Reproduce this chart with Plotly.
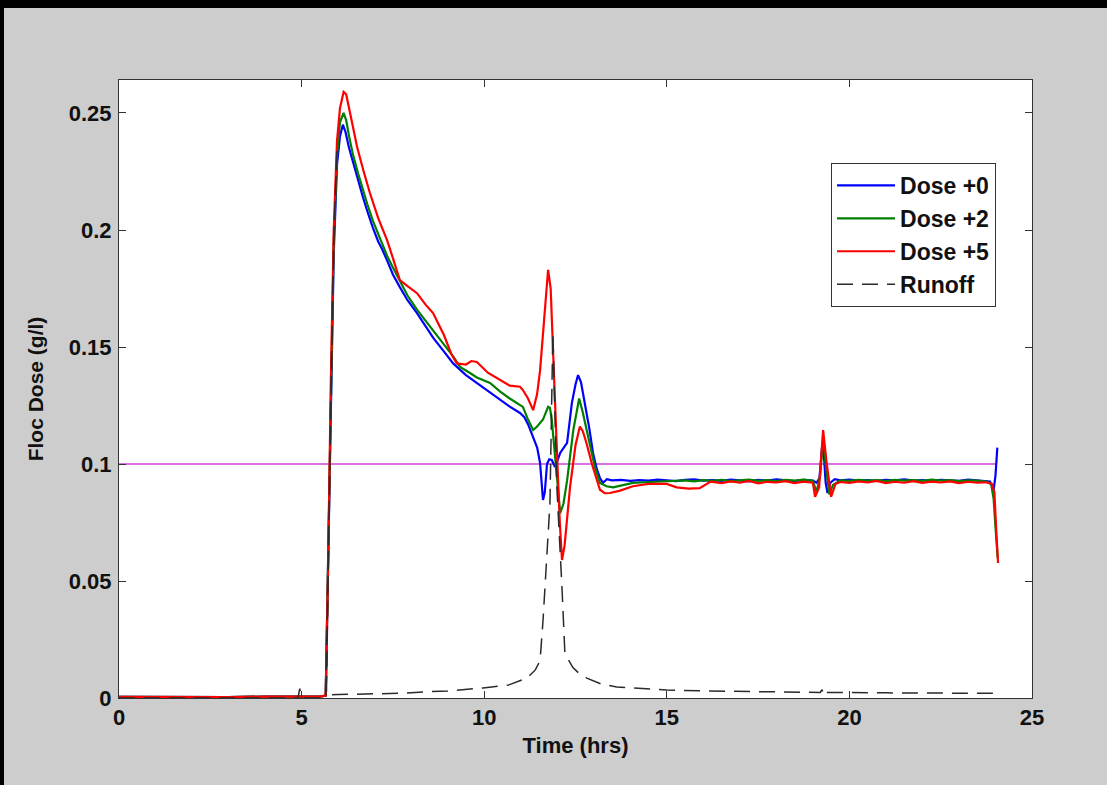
import plotly.graph_objects as go

# ---------------- data ----------------
dose0_t = [0, 1, 2, 3, 4, 5, 5.5, 5.66, 5.72, 5.8, 5.88, 5.97, 6.05, 6.13, 6.2, 6.3, 6.41,
           6.55, 6.68, 6.8, 6.95, 7.1, 7.2, 7.34, 7.5, 7.69, 7.9, 8.16, 8.4, 8.6, 8.9, 9.15,
           9.5, 9.8, 10.1, 10.43, 10.7, 10.98, 11.1, 11.2, 11.3, 11.45, 11.53, 11.58, 11.61,
           11.66, 11.72, 11.78, 11.85, 11.94, 12.08, 12.27, 12.4, 12.5, 12.57, 12.65, 12.76,
           12.88, 12.98, 13.08, 13.17, 13.25, 13.36, 13.5, 13.75, 14.0, 14.25, 14.5, 14.75,
           15.0, 15.25, 15.5, 15.75, 16.0, 16.25, 16.5, 16.75, 17.0, 17.25, 17.5, 17.75, 18.0,
           18.25, 18.5, 18.75, 19.0, 19.1, 19.18, 19.25, 19.3, 19.35, 19.4, 19.48, 19.6, 19.75,
           20.0, 20.25, 20.5, 20.75, 21.0, 21.25, 21.5, 21.75, 22.0, 22.25, 22.5, 22.75, 23.0,
           23.25, 23.5, 23.75, 23.85, 23.95, 24.0, 24.05]
dose0_v = [0.0005, 0.0004, 0.0005, 0.0004, 0.0006, 0.0005, 0.0006, 0.001, 0.05, 0.13, 0.19,
           0.228, 0.240, 0.245, 0.242, 0.235, 0.2286, 0.221, 0.214, 0.208, 0.201, 0.195, 0.192,
           0.187, 0.181, 0.1756, 0.170, 0.1645, 0.159, 0.154, 0.148, 0.143, 0.138, 0.1346,
           0.131, 0.1274, 0.1245, 0.1218, 0.120, 0.117, 0.113, 0.107, 0.1004, 0.090, 0.0846,
           0.088, 0.100, 0.102, 0.1017, 0.0987, 0.1047, 0.109, 0.126, 0.134, 0.138, 0.135,
           0.126, 0.115, 0.1047, 0.098, 0.094, 0.092, 0.0935, 0.0930, 0.0932, 0.0928, 0.0931,
           0.0929, 0.0933, 0.0930, 0.0927, 0.0932, 0.0934, 0.0929, 0.0931, 0.0928, 0.0933,
           0.0930, 0.0926, 0.0932, 0.0929, 0.0934, 0.0930, 0.0927, 0.0932, 0.0929, 0.0920,
           0.0940, 0.107, 0.104, 0.092, 0.0876, 0.092, 0.0935, 0.0930, 0.0933, 0.0929, 0.0931,
           0.0928, 0.0932, 0.0930, 0.0934, 0.0929, 0.0931, 0.0927, 0.0932, 0.0930, 0.0928,
           0.0933, 0.0930, 0.0929, 0.0925, 0.089, 0.095, 0.107]

dose2_t = [0, 1, 2, 3, 4, 5, 5.5, 5.66, 5.72, 5.8, 5.88, 5.97, 6.05, 6.15, 6.22, 6.3, 6.41,
           6.55, 6.68, 6.8, 6.95, 7.1, 7.2, 7.34, 7.5, 7.69, 7.9, 8.16, 8.4, 8.6, 8.9, 9.15,
           9.34, 9.6, 9.8, 10.16, 10.43, 10.7, 11.06, 11.2, 11.34, 11.45, 11.61, 11.75, 11.8,
           11.85, 11.93, 12.0, 12.08, 12.17, 12.27, 12.44, 12.6, 12.7, 12.8, 13.03, 13.17,
           13.35, 13.53, 13.8, 14.07, 14.4, 14.8, 15.2, 15.5, 15.75, 16.0, 16.25, 16.5, 16.75,
           17.0, 17.25, 17.5, 17.75, 18.0, 18.25, 18.5, 18.75, 19.0, 19.1, 19.2, 19.28, 19.35,
           19.45, 19.55, 19.75, 20.0, 20.25, 20.5, 20.75, 21.0, 21.25, 21.5, 21.75, 22.0,
           22.25, 22.5, 22.75, 23.0, 23.25, 23.5, 23.75, 23.88, 23.95, 24.0, 24.06]
dose2_v = [0.0005, 0.0004, 0.0005, 0.0004, 0.0006, 0.0005, 0.0006, 0.001, 0.05, 0.13, 0.195,
           0.232, 0.246, 0.250, 0.247, 0.240, 0.232, 0.224, 0.217, 0.211, 0.204, 0.198, 0.194,
           0.189, 0.184, 0.178, 0.172, 0.166, 0.161, 0.157, 0.151, 0.146, 0.1415, 0.139,
           0.137, 0.1346, 0.131, 0.128, 0.1244, 0.119, 0.1145, 0.116, 0.119, 0.1244, 0.124,
           0.119, 0.105, 0.093, 0.079, 0.083, 0.093, 0.1145, 0.128, 0.122, 0.1145, 0.0987,
           0.0919, 0.0905, 0.090, 0.0908, 0.0919, 0.0922, 0.0925, 0.0928, 0.0930, 0.0926,
           0.0931, 0.0928, 0.0932, 0.0927, 0.0930, 0.0933, 0.0928, 0.0931, 0.0927, 0.0932,
           0.0929, 0.0933, 0.0928, 0.088, 0.095, 0.112, 0.100, 0.087, 0.091, 0.0930, 0.0928,
           0.0932, 0.0929, 0.0931, 0.0927, 0.0932, 0.0929, 0.0931, 0.0928, 0.0933, 0.0929,
           0.0931, 0.0927, 0.0930, 0.0929, 0.0925, 0.0915, 0.085, 0.073, 0.060]

dose5_t = [0, 1, 2, 3, 4, 5, 5.5, 5.66, 5.72, 5.8, 5.88, 5.97, 6.05, 6.15, 6.22, 6.3, 6.41,
           6.52, 6.7, 6.87, 7.1, 7.34, 7.5, 7.69, 7.9, 8.16, 8.4, 8.6, 8.9, 9.1, 9.25, 9.5,
           9.65, 9.8, 10.1, 10.43, 10.7, 10.98, 11.06, 11.2, 11.34, 11.45, 11.53, 11.64, 11.75,
           11.82, 11.88, 11.99, 12.07, 12.13, 12.2, 12.35, 12.5, 12.62, 12.7, 12.8, 12.95,
           13.08, 13.17, 13.3, 13.44, 13.7, 14.07, 14.5, 15.0, 15.27, 15.6, 15.9, 16.2, 16.5,
           16.75, 17.0, 17.25, 17.5, 17.75, 18.0, 18.25, 18.5, 18.75, 19.0, 19.06, 19.17,
           19.28, 19.38, 19.5, 19.62, 19.75, 20.0, 20.25, 20.5, 20.75, 21.0, 21.25, 21.5,
           21.75, 22.0, 22.25, 22.5, 22.75, 23.0, 23.25, 23.5, 23.75, 23.9, 23.97, 24.02, 24.07]
dose5_v = [0.0005, 0.0004, 0.0005, 0.0004, 0.0006, 0.0005, 0.0006, 0.001, 0.05, 0.135, 0.20,
           0.238, 0.252, 0.259, 0.258, 0.252, 0.243, 0.2355, 0.225, 0.2158, 0.205, 0.1957,
           0.188, 0.1786, 0.176, 0.173, 0.168, 0.1645, 0.155, 0.147, 0.143, 0.1425, 0.144,
           0.1436, 0.139, 0.136, 0.1335, 0.133, 0.1316, 0.128, 0.123, 0.130, 0.140, 0.1615,
           0.183, 0.175, 0.1487, 0.106, 0.075, 0.059, 0.065, 0.090, 0.108, 0.116, 0.114, 0.109,
           0.100, 0.093, 0.089, 0.0875, 0.0876, 0.0885, 0.0905, 0.0915, 0.0915, 0.0900, 0.0895,
           0.0897, 0.0925, 0.0918, 0.0926, 0.0920, 0.0928, 0.0917, 0.0924, 0.0921, 0.0927,
           0.0918, 0.0925, 0.0920, 0.086, 0.090, 0.1145, 0.100, 0.086, 0.0915, 0.0923, 0.0919,
           0.0926, 0.0921, 0.0928, 0.0918, 0.0924, 0.0920, 0.0927, 0.0919, 0.0925, 0.0921,
           0.0926, 0.0918, 0.0924, 0.0920, 0.0922, 0.0915, 0.088, 0.072, 0.0577]

runoff_t = [0, 1, 2, 3, 4, 4.9, 4.95, 5.0, 5.5, 5.66, 5.72, 5.8, 5.88, 5.97, 5.88, 5.8,
            5.72, 5.68, 6.0, 6.5, 7.0, 7.7, 8.35, 9.0, 9.97, 10.66, 11.17, 11.4, 11.53,
            11.61, 11.72, 11.8, 11.88, 11.99, 12.13, 12.21, 12.43, 12.6, 12.81, 13.2, 13.63,
            14.5, 15.0, 16.07, 18.0, 19.2, 19.25, 19.3, 19.35, 19.4, 21.0, 24.0]
runoff_v = [0.0, 0.0, 0.0, 0.0, 0.0, 0.0, 0.004, 0.0, 0.0, 0.0, 0.05, 0.13, 0.195, 0.235,
            0.195, 0.13, 0.05, 0.0012, 0.0015, 0.0016, 0.0018, 0.002, 0.0026, 0.003, 0.0043,
            0.0055, 0.0085, 0.012, 0.016, 0.033, 0.062, 0.083, 0.156, 0.090, 0.047, 0.019,
            0.013, 0.0105, 0.0085, 0.006, 0.0047, 0.0038, 0.0034, 0.003, 0.0026, 0.0024,
            0.0035, 0.0015, 0.003, 0.0024, 0.0022, 0.002]

target_t = [0, 24]
target_v = [0.1, 0.1]

x_ticks = [0, 5, 10, 15, 20, 25]
y_ticks = [0, 0.05, 0.1, 0.15, 0.2, 0.25]
y_tick_text = ["0", "0.05", "0.1", "0.15", "0.2", "0.25"]

# ---------------- figure ----------------
FONT = "Liberation Sans, Arial, sans-serif"
fig = go.Figure()

fig.add_trace(go.Scatter(x=target_t, y=target_v, mode="lines", showlegend=False,
                         line=dict(color="#cc44dd", width=1.6)))
fig.add_trace(go.Scatter(x=dose0_t, y=dose0_v, mode="lines", name="Dose +0",
                         line=dict(color="#0000ff", width=2.2)))
fig.add_trace(go.Scatter(x=dose2_t, y=dose2_v, mode="lines", name="Dose +2",
                         line=dict(color="#008000", width=2.2)))
fig.add_trace(go.Scatter(x=dose5_t, y=dose5_v, mode="lines", name="Dose +5",
                         line=dict(color="#ff0000", width=2.2)))
fig.add_trace(go.Scatter(x=runoff_t, y=runoff_v, mode="lines", name="Runoff",
                         line=dict(color="#2a2a2a", width=1.5, dash="16px,9px")))

axis_common = dict(showline=True, linecolor="#333333", linewidth=1, mirror="ticks",
                   ticks="inside", ticklen=7, tickcolor="#333333", showgrid=False,
                   zeroline=False,
                   tickfont=dict(family=FONT, size=22, color="#111111", weight="bold"))

fig.update_xaxes(range=[0, 25], tickvals=x_ticks,
                 title=dict(text="Time (hrs)", standoff=8,
                            font=dict(family=FONT, size=22, color="#111111", weight="bold")),
                 **axis_common)
fig.update_yaxes(range=[0, 0.2641], tickvals=y_ticks, ticktext=y_tick_text,
                 ticklabelstandoff=2,
                 title=dict(text="Floc Dose (g/l)", standoff=19,
                            font=dict(family=FONT, size=21, color="#111111", weight="bold")),
                 **axis_common)

fig.update_layout(
    width=1107, height=785,
    margin=dict(l=119, r=75, t=80, b=87, pad=0),
    paper_bgcolor="#cdcdcd", plot_bgcolor="#ffffff",
    legend=dict(x=0.9606, y=0.8657, xanchor="right", yanchor="top",
                bgcolor="#ffffff", bordercolor="#333333", borderwidth=1,
                font=dict(family=FONT, size=23, color="#111111", weight="bold"),
                tracegroupgap=0, itemwidth=58),
    shapes=[
        dict(type="rect", xref="paper", yref="paper", x0=-0.13034, x1=1.08215,
             y0=1.11650, y1=1.12945,
             fillcolor="#000000", line=dict(width=0), layer="above"),
        dict(type="rect", xref="paper", yref="paper", x0=-0.13034, x1=-0.12596,
             y0=-0.14078, y1=1.12945,
             fillcolor="#000000", line=dict(width=0), layer="above"),
    ],
)

fig.write_html("out.html")
